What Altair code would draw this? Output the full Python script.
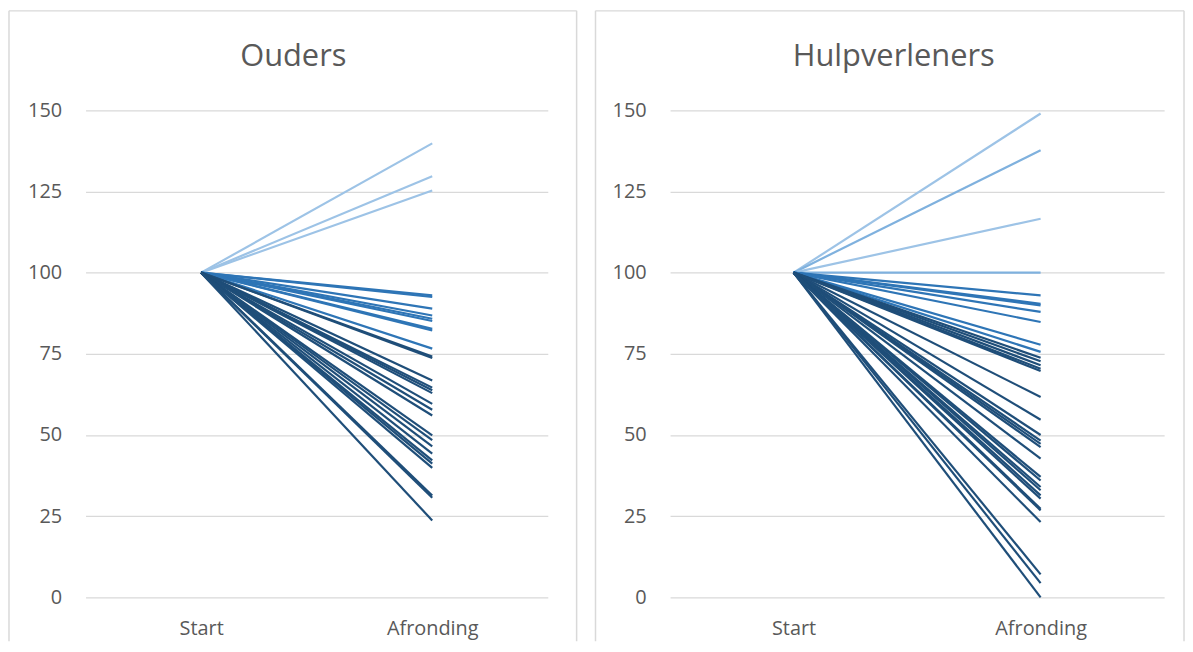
import altair as alt
import pandas as pd

FONT = "Open Sans"
TEXT_COLOR = "#595959"
GRID_COLOR = "#D9D9D9"

fases = ["Start", "Afronding"]
y_ticks = [0, 25, 50, 75, 100, 125, 150]
start_waarde = 100

ouders_afronding = [139.8, 129.7, 125.3,
                    93.0, 92.5, 88.9, 86.8, 85.8, 85.1, 82.7, 82.2, 76.6,
                    74.2, 73.7, 66.8, 64.6, 63.8, 62.9, 59.6, 57.8, 56.0, 49.9,
                    48.4, 46.5, 44.3, 42.2, 41.2, 39.9, 31.4, 30.7, 23.7]
ouders_tint = ["licht", "licht", "licht",
               "midden", "midden", "midden", "midden", "midden", "midden", "midden", "midden", "midden",
               "donker", "donker", "donker", "donker", "donker", "donker", "donker", "donker", "donker", "donker",
               "donker", "donker", "donker", "donker", "donker", "donker", "donker", "donker", "donker"]

hulp_afronding = [149.0, 137.7, 116.6, 100.0,
                  93.0, 90.4, 89.9, 87.9, 84.8, 77.8, 75.6,
                  73.8, 72.7, 71.5, 70.4, 69.7, 61.7, 54.7, 50.0, 48.3, 47.3, 46.3,
                  42.7, 37.1, 36.0, 34.0, 33.0, 31.4, 30.4, 27.3, 26.8, 23.2, 7.1, 4.4, 0.0]
hulp_tint = ["licht", "licht2", "licht", "licht2",
             "midden", "midden", "midden", "midden", "midden", "midden", "midden",
             "donker", "donker", "donker", "donker", "donker", "donker", "donker", "donker", "donker", "donker", "donker",
             "donker", "donker", "donker", "donker", "donker", "donker", "donker", "donker", "donker", "donker", "donker", "donker", "donker"]

tint_domain = ["licht", "licht2", "midden", "donker"]
tint_range = ["#9DC3E6", "#7FB1DE", "#2E75B6", "#1F4E79"]


def to_long(values, tints):
    rows = []
    for i, (v, t) in enumerate(zip(values, tints)):
        rows.append({"reeks": i, "fase": fases[0], "waarde": start_waarde, "tint": t})
        rows.append({"reeks": i, "fase": fases[1], "waarde": v, "tint": t})
    return pd.DataFrame(rows)


def panel(df, title, width, frame_left, frame_right):
    height = 490
    lines = alt.Chart(df).mark_line(strokeWidth=2.2).encode(
        x=alt.X("fase:N", sort=fases,
                scale=alt.Scale(type="point", padding=0.5, domain=fases),
                axis=alt.Axis(title=None, labelAngle=0, domain=False, ticks=False, grid=False,
                              labelFontSize=20, labelColor=TEXT_COLOR, labelFont=FONT,
                              labelPadding=21)),
        y=alt.Y("waarde:Q", scale=alt.Scale(domain=[0, 150], nice=False),
                axis=alt.Axis(values=y_ticks, title=None, domain=False, ticks=False,
                              gridColor=GRID_COLOR, gridWidth=1.3,
                              labelFontSize=20, labelColor=TEXT_COLOR, labelFont=FONT,
                              labelPadding=24, minExtent=77, maxExtent=77)),
        color=alt.Color("tint:N", scale=alt.Scale(domain=tint_domain, range=tint_range), legend=None),
        detail="reeks:N",
    )
    fdf = pd.DataFrame({"k": [0]})
    top = -100
    bottom = 534
    left_rule = alt.Chart(fdf).mark_rule(color=GRID_COLOR, strokeWidth=1.5).encode(
        x=alt.value(frame_left), y=alt.value(top), y2=alt.value(bottom))
    right_rule = alt.Chart(fdf).mark_rule(color=GRID_COLOR, strokeWidth=1.5).encode(
        x=alt.value(frame_right), y=alt.value(top), y2=alt.value(bottom))
    top_rule = alt.Chart(fdf).mark_rule(color=GRID_COLOR, strokeWidth=1.5).encode(
        x=alt.value(frame_left), x2=alt.value(frame_right), y=alt.value(top))
    return alt.layer(left_rule, right_rule, top_rule, lines).properties(
        width=width, height=height,
        title=alt.TitleParams(text=title, fontSize=31, font=FONT, color=TEXT_COLOR,
                              fontWeight="normal", dx=-23.5, dy=98, offset=35, frame="group"),
    )


ouders = panel(to_long(ouders_afronding, ouders_tint), "Ouders", 465, -77, 494)
hulp = panel(to_long(hulp_afronding, hulp_tint), "Hulpverleners", 497, -75, 517)

chart = alt.hconcat(ouders, hulp, spacing=123, bounds="flush").properties(
    padding={"left": 0, "top": 0, "right": 0, "bottom": 0}
).configure_view(strokeWidth=0)

chart.save("out.html", embed_options={"renderer": "svg", "actions": False})
